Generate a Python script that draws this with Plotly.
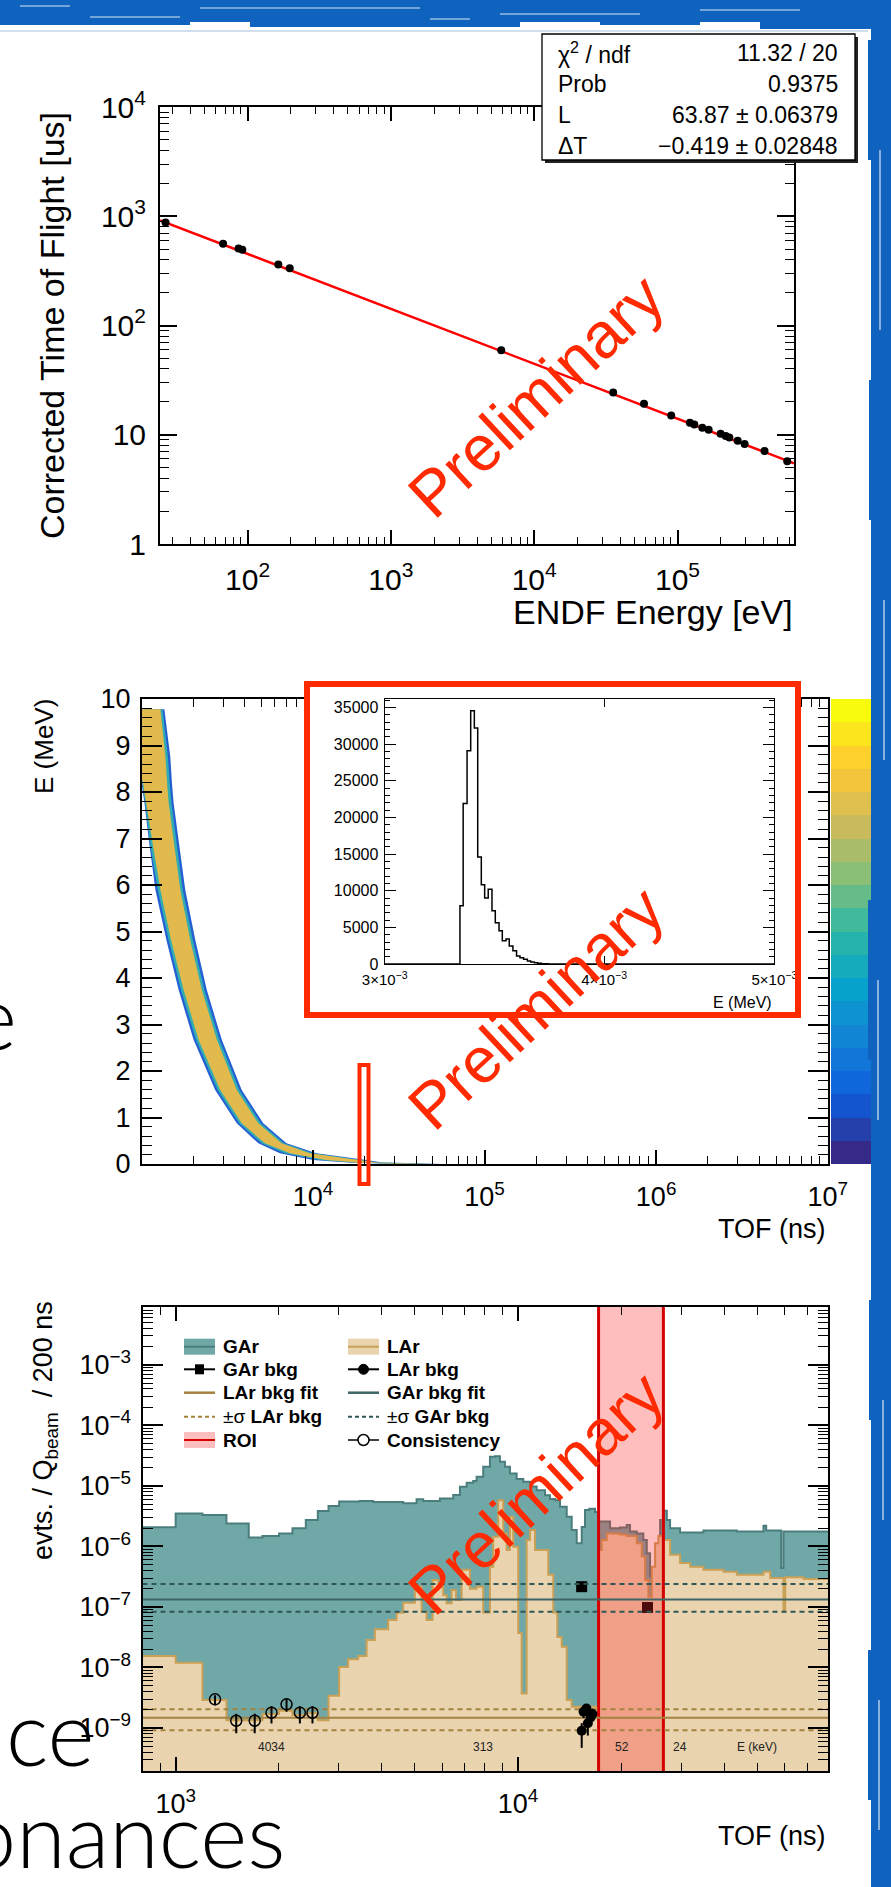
import math
import base64
import plotly.graph_objects as go

W, H = 891, 1887
def PX(x): return x / W
def PY(y): return 1 - y / H
FONT = "Liberation Sans, Arial, Helvetica, sans-serif"
RED_WM = "#ff2a00"
BLUE = "#0f62be"

# ---------------- Panel 1: TOF calibration ----------------
endf_energy_eV = [26.8, 67.5, 86.5, 92, 164, 197, 5890, 35600, 58400, 90400, 122000, 131000,
                  149000, 165000, 200000, 217000, 230000, 263000, 294000, 405000, 583000]
tof_us = [877, 561, 506, 493, 361, 334, 59.4, 24.3, 19.2, 15.0, 12.9, 12.4,
          11.6, 11.1, 10.2, 9.76, 9.42, 8.79, 8.21, 7.10, 5.73]
fit_energy_eV = [24.5, 650000]
fit_tof_us = [916, 5.48]
stat_names = ["χ<sup>2</sup> / ndf", "Prob", "L", "ΔT"]
stat_values = ["11.32 / 20", "0.9375", "63.87 ± 0.06379", "−0.419 ± 0.02848"]
p1_xtick_vals = [1e2, 1e3, 1e4, 1e5]
p1_xtick_text = ["10<sup>2</sup>", "10<sup>3</sup>", "10<sup>4</sup>", "10<sup>5</sup>"]
p1_ytick_vals = [1, 10, 100, 1000, 10000]
p1_ytick_text = ["1", "10", "10<sup>2</sup>", "10<sup>3</sup>", "10<sup>4</sup>"]

# ---------------- Panel 2: E vs TOF band ----------------
band_E = [9.78, 8.76, 8.2, 7.76, 6.97, 5.89, 4.82, 3.74, 2.67, 1.59, 0.875, 0.445, 0.23, 0.086, 0.03, 0.008]
blue_lo = [900, 900, 1000, 1041, 1103, 1206, 1396, 1647, 2012, 2688, 3592, 4797, 6409, 10000, 16000, 28000]
blue_hi = [1360, 1472, 1505, 1540, 1647, 1800, 2058, 2404, 2939, 3840, 5126, 7008, 10460, 20400, 25500, 57800]
teal_lo = [900, 900, 1008, 1050, 1115, 1245, 1440, 1700, 2080, 2780, 3715, 5020, 6850, 11000, 17000, 30000]
teal_hi = [1325, 1425, 1460, 1495, 1595, 1740, 1990, 2325, 2845, 3715, 4960, 6780, 10000, 19100, 24400, 50000]
gold_lo = [900, 900, 1020, 1069, 1153, 1289, 1486, 1761, 2151, 2874, 3840, 5245, 7325, 11960, 17870, 32000]
gold_hi = [1289, 1378, 1410, 1440, 1540, 1684, 1923, 2249, 2751, 3592, 4797, 6556, 9570, 17870, 23330, 45000]
p2_xtick_vals = [1e4, 1e5, 1e6, 1e7]
p2_xtick_text = ["10<sup>4</sup>", "10<sup>5</sup>", "10<sup>6</sup>", "10<sup>7</sup>"]
p2_ytick_vals = [0, 1, 2, 3, 4, 5, 6, 7, 8, 9, 10]
palette_levels = list(range(20))
kbird = [[0, "#352a87"], [0.125, "#0f5cdd"], [0.25, "#1481d6"], [0.375, "#06a4ca"],
         [0.5, "#2eb7a4"], [0.625, "#87bf77"], [0.75, "#d1bb59"], [0.875, "#fec832"], [1, "#f9fb0e"]]

# inset histogram
inset_edges = [3.311e-3, 3.325e-3, 3.342e-3, 3.358e-3, 3.374e-3, 3.389e-3, 3.405e-3, 3.420e-3, 3.436e-3,
               3.453e-3, 3.468e-3, 3.485e-3, 3.500e-3, 3.517e-3, 3.532e-3, 3.549e-3, 3.566e-3, 3.582e-3,
               3.599e-3, 3.617e-3, 3.633e-3, 3.650e-3, 3.666e-3, 3.684e-3, 3.701e-3, 3.718e-3]
inset_counts = [7950, 21900, 29100, 34550, 32200, 14600, 10800, 9000, 10200, 7270, 5640, 4550, 3180,
                3400, 2450, 1820, 1090, 860, 640, 410, 270, 180, 90, 45, 20]
inset_xtick_vals = [3e-3, 4e-3, 5e-3]
inset_xtick_text = ["3×10<sup>−3</sup>", "4×10<sup>−3</sup>", "5×10<sup>−3</sup>"]
inset_ytick_vals = [0, 5000, 10000, 15000, 20000, 25000, 30000, 35000]

# ---------------- Panel 3: TOF spectra ----------------
gar_edges = [800, 1000, 1197, 1407, 1635, 1793, 2005, 2194, 2400, 2602, 2796, 3003, 3451, 3776, 4620,
             5056, 5286, 5915, 6469, 6768, 7080, 7401, 7572, 7916, 8282, 8565, 8858, 9162, 9475, 9913,
             10363, 10842, 11342, 11994, 12404, 12829, 13268, 13881, 14356, 14848, 15356, 15701, 16162,
             16795, 17172, 18579, 19872, 20789, 21256, 22236, 23247, 23786, 24320, 24866, 25441, 26020,
             26604, 27220, 27826, 29763, 34823, 43605, 52156, 53113, 58750, 59667, 82000]
gar_vals = [2.07e-6, 3.5e-6, 3.3e-6, 2.4e-6, 1.41e-6, 1.49e-6, 1.64e-6, 2.0e-6, 2.73e-6, 3.85e-6,
            4.65e-6, 5.5e-6, 5.6e-6, 5.4e-6, 5.16e-6, 6.0e-6, 5.6e-6, 6.2e-6, 7.1e-6, 9.7e-6,
            1.13e-5, 1.2e-5, 1.42e-5, 2.07e-5, 3.03e-5, 3.1e-5, 2.5e-5, 2.07e-5, 1.6e-5, 1.3e-5,
            1.17e-5, 9.8e-6, 8.5e-6, 7.0e-6, 6.1e-6, 5.8e-6, 4.5e-6, 3.1e-6, 1.86e-6, 1.13e-6,
            2.1e-6, 4.0e-6, 4.2e-6, 3.7e-6, 2.57e-6, 2.0e-6, 2.05e-6, 2.26e-6, 1.76e-6, 1.64e-6,
            1.28e-6, 7.7e-7, 3.2e-7, 2.8e-7, 8.7e-7, 2.73e-6, 3.9e-6, 2.73e-6, 2.0e-6, 1.69e-6,
            1.83e-6, 1.76e-6, 2.2e-6, 1.83e-6, 4.4e-7, 1.76e-6]
lar_edges = [800, 1000, 1197, 1407, 1793, 2005, 2194, 2400, 2602, 2796, 3003, 3190, 3412, 3612, 3819,
             4176, 4419, 4620, 4998, 5229, 5408, 5631, 5848, 6048, 6188, 6400, 6588, 6846, 7238, 7572,
             7916, 8282, 8468, 8757, 9057, 9267, 9475, 9688, 10020, 10252, 10603, 10842, 11213, 12263,
             12683, 13029, 13421, 13881, 14356, 17172, 17569, 18171, 19872, 20789, 22236, 22998, 23515,
             24043, 24600, 25152, 25716, 26497, 27826, 29763, 31835, 34823, 39837, 43605, 52156, 54563,
             59667, 60354, 68282, 82000]
lar_vals = [1.55e-8, 1.2e-8, 2.9e-9, 1.35e-9, 1.7e-9, 1.93e-9, 1.64e-9, 1.75e-9, 1.35e-9, 3.4e-9,
            1.02e-8, 1.37e-8, 1.55e-8, 2.84e-8, 4.27e-8, 6.1e-8, 8.0e-8, 1.17e-7, 2.16e-7, 8.3e-8,
            6.1e-8, 2.8e-7, 2.16e-7, 1.57e-7, 1.15e-7, 1.9e-7, 1.3e-7, 4.1e-7, 2.0e-7, 2.16e-7,
            8.1e-8, 4.6e-7, 1.44e-6, 5.8e-6, 1.64e-6, 8.7e-7, 3.1e-6, 9.9e-7, 3.7e-8, 3.7e-9,
            1.28e-6, 1.86e-6, 8.7e-7, 3.4e-7, 8.1e-8, 3.2e-8, 2.2e-8, 2.9e-9, 2.25e-9, 8.7e-7,
            1.28e-6, 1.64e-6, 1.57e-6, 1.48e-6, 1.13e-6, 6.8e-7, 2.8e-7, 1.48e-7, 4.6e-7, 1.13e-6,
            1.48e-6, 1.28e-6, 7.3e-7, 5.3e-7, 4.6e-7, 4.1e-7, 3.8e-7, 3.4e-7, 3.8e-7, 3.0e-7,
            8.3e-8, 3.1e-7, 2.9e-7]
roi_tof = [17200, 26600]
bkg_line_x = [800, 82000]
gar_bkg_fit = 1.33e-7
gar_bkg_sigma = [2.4e-7, 8.3e-8]
lar_bkg_fit = 1.48e-9
lar_bkg_sigma = [2.04e-9, 9.2e-10]
gar_bkg_x = [15350, 23900]
gar_bkg_y = [2.16e-7, 9.8e-8]
gar_bkg_err = [2.0e-8, 1.0e-8]
lar_bkg_x = [15356, 15550, 15850, 16000, 16300, 16500]
lar_bkg_y = [9.0e-10, 1.86e-9, 2.1e-9, 1.2e-9, 1.5e-9, 1.7e-9]
lar_bkg_err_lo = [4.3e-10, 4.0e-10, 4.0e-10, 4.5e-10, 4.0e-10, 4.0e-10]
lar_bkg_err_hi = [3.0e-10, 4.0e-10, 4.0e-10, 4.0e-10, 4.0e-10, 4.0e-10]
cons_x = [1303, 1503, 1702, 1905, 2108, 2306, 2510]
cons_y = [2.98e-9, 1.32e-9, 1.32e-9, 1.79e-9, 2.46e-9, 1.79e-9, 1.79e-9]
cons_err_lo = [0.6e-9, 0.5e-9, 0.5e-9, 0.6e-9, 0.6e-9, 0.6e-9, 0.6e-9]
cons_err_hi = [0.5e-9, 0.4e-9, 0.4e-9, 0.5e-9, 0.6e-9, 0.5e-9, 0.5e-9]
energy_labels = ["4034", "313", "52", "24", "E (keV)"]
energy_label_tof = [1905, 7916, 20100, 29763, 50000]
p3_xtick_vals = [1e3, 1e4]
p3_xtick_text = ["10<sup>3</sup>", "10<sup>4</sup>"]
p3_ytick_vals = [1e-9, 1e-8, 1e-7, 1e-6, 1e-5, 1e-4, 1e-3]
p3_ytick_text = ["10<sup>−9</sup>", "10<sup>−8</sup>", "10<sup>−7</sup>", "10<sup>−6</sup>",
                 "10<sup>−5</sup>", "10<sup>−4</sup>", "10<sup>−3</sup>"]

GAR_FILL, GAR_LINE = "#70a8a8", "#4b7d7d"
LAR_FILL, LAR_LINE = "#e9d4af", "#c9a055"
LAR_FIT, GAR_FIT = "#a58240", "#3e6666"

fig = go.Figure()

# ---- panel 1 traces
fig.add_trace(go.Scatter(x=fit_energy_eV, y=fit_tof_us, mode="lines",
                         line=dict(color="#ff0000", width=2.5), xaxis="x", yaxis="y"))
fig.add_trace(go.Scatter(x=endf_energy_eV, y=tof_us, mode="markers",
                         marker=dict(color="black", size=8), xaxis="x", yaxis="y"))

# ---- panel 2 band
for lo, hi, col in [(blue_lo, blue_hi, "#2460d4"), (teal_lo, teal_hi, "#33aeb0"), (gold_lo, gold_hi, "#e2b94c")]:
    fig.add_trace(go.Scatter(x=lo + hi[::-1], y=band_E + band_E[::-1], mode="lines", fill="toself",
                             fillcolor=col, line=dict(width=0, color=col), xaxis="x2", yaxis="y2"))

# ---- cover subplot (white inset box background)
fig.add_trace(go.Scatter(x=[0.5], y=[0.5], mode="markers", marker=dict(opacity=0),
                         xaxis="x3", yaxis="y3", hoverinfo="skip"))

# ---- inset histogram
fig.add_trace(go.Scatter(x=[3e-3] + inset_edges + [5e-3], y=[0] + inset_counts + [0, 0], mode="lines",
                         line=dict(color="black", width=1.5, shape="hv"), xaxis="x4", yaxis="y4"))

# ---- colour palette bar
fig.add_trace(go.Heatmap(z=[[v] for v in palette_levels], x=[0], y=palette_levels, colorscale=kbird,
                         zmin=0, zmax=19, showscale=False, xaxis="x5", yaxis="y5", hoverinfo="skip"))

# ---- panel 3 histograms
BASE = 1e-12
def step_fill(edges, vals):
    return [edges[0]] + edges + [edges[-1]], [BASE] + vals + [vals[-1], BASE]

xs, ys = step_fill(gar_edges, gar_vals)
fig.add_trace(go.Scatter(x=xs, y=ys, mode="lines", fill="toself", fillcolor=GAR_FILL,
                         line=dict(width=0, shape="hv"), xaxis="x6", yaxis="y6"))
fig.add_trace(go.Scatter(x=gar_edges, y=gar_vals + [gar_vals[-1]], mode="lines",
                         line=dict(color=GAR_LINE, width=2, shape="hv"), xaxis="x6", yaxis="y6"))
xs, ys = step_fill(lar_edges, lar_vals)
fig.add_trace(go.Scatter(x=xs, y=ys, mode="lines", fill="toself", fillcolor=LAR_FILL,
                         line=dict(width=0, shape="hv"), xaxis="x6", yaxis="y6"))
fig.add_trace(go.Scatter(x=lar_edges, y=lar_vals + [lar_vals[-1]], mode="lines",
                         line=dict(color=LAR_LINE, width=2, shape="hv"), xaxis="x6", yaxis="y6"))
# GAr bkg squares (under ROI)
fig.add_trace(go.Scatter(x=gar_bkg_x, y=gar_bkg_y, mode="markers",
                         marker=dict(symbol="square", size=11, color="black"),
                         error_y=dict(type="data", array=gar_bkg_err, color="black", width=0, thickness=1.5),
                         xaxis="x6", yaxis="y6"))
# ROI
fig.add_trace(go.Scatter(x=[roi_tof[0], roi_tof[0], roi_tof[1], roi_tof[1], roi_tof[0]],
                         y=[BASE, 1, 1, BASE, BASE], mode="lines", fill="toself",
                         fillcolor="rgba(255,40,40,0.30)", line=dict(color="#d40000", width=3),
                         xaxis="x6", yaxis="y6"))
# fit lines
fig.add_trace(go.Scatter(x=bkg_line_x, y=[gar_bkg_fit] * 2, mode="lines",
                         line=dict(color=GAR_FIT, width=2), xaxis="x6", yaxis="y6"))
for s in gar_bkg_sigma:
    fig.add_trace(go.Scatter(x=bkg_line_x, y=[s] * 2, mode="lines",
                             line=dict(color="#2f5757", width=2, dash="5px,4px"), xaxis="x6", yaxis="y6"))
fig.add_trace(go.Scatter(x=bkg_line_x, y=[lar_bkg_fit] * 2, mode="lines",
                         line=dict(color=LAR_FIT, width=2), xaxis="x6", yaxis="y6"))
for s in lar_bkg_sigma:
    fig.add_trace(go.Scatter(x=bkg_line_x, y=[s] * 2, mode="lines",
                             line=dict(color=LAR_FIT, width=2, dash="5px,4px"), xaxis="x6", yaxis="y6"))
# LAr bkg and consistency points
fig.add_trace(go.Scatter(x=lar_bkg_x, y=lar_bkg_y, mode="markers",
                         marker=dict(symbol="circle", size=10, color="black"),
                         error_y=dict(type="data", array=lar_bkg_err_hi, arrayminus=lar_bkg_err_lo,
                                      color="black", width=0, thickness=2),
                         xaxis="x6", yaxis="y6"))
fig.add_trace(go.Scatter(x=cons_x, y=cons_y, mode="markers",
                         marker=dict(symbol="circle-open", size=11, color="black", line=dict(width=1.5)),
                         error_y=dict(type="data", array=cons_err_hi, arrayminus=cons_err_lo,
                                      color="black", width=0, thickness=2),
                         xaxis="x6", yaxis="y6"))

# ---------------- axes ----------------
def ax(**kw):
    d = dict(showline=True, linecolor="black", linewidth=2, mirror="allticks", ticks="inside",
             tickcolor="black", tickwidth=1.5, showgrid=False, zeroline=False, automargin=False)
    d.update(kw)
    return d

def tf(size):
    return dict(family=FONT, size=size, color="black")

p1x_minor = [m * 10 ** d for d in range(1, 6) for m in range(2, 10)]
p1y_minor = [m * 10 ** d for d in range(0, 4) for m in range(2, 10)]
p2x_minor = [m * 10 ** d for d in range(3, 7) for m in range(2, 10)]
p3x_minor = [m * 10 ** d for d in range(2, 5) for m in range(2, 10)]
p3y_minor = [m * 10.0 ** d for d in range(-10, -2) for m in range(2, 10)]

layout_axes = dict(
    xaxis=ax(type="log", range=[math.log10(24.5), math.log10(650000)], domain=[PX(160), PX(794)], anchor="y",
             tickmode="array", tickvals=p1_xtick_vals, ticktext=p1_xtick_text, ticklen=14, tickfont=tf(30),
             ticklabelstandoff=8,
             minor=dict(tickmode="array", tickvals=p1x_minor, ticks="inside", ticklen=7, tickwidth=1.2, tickcolor="black")),
    yaxis=ax(type="log", range=[0, 4], domain=[PY(544), PY(107)], anchor="x",
             tickmode="array", tickvals=p1_ytick_vals, ticktext=p1_ytick_text, ticklen=17, tickfont=tf(30),
             ticklabelstandoff=6,
             minor=dict(tickmode="array", tickvals=p1y_minor, ticks="inside", ticklen=9, tickwidth=1.2, tickcolor="black")),
    xaxis2=ax(type="log", range=[3.003, 7.002], domain=[PX(142), PX(828)], anchor="y2",
              tickmode="array", tickvals=p2_xtick_vals, ticktext=p2_xtick_text, ticklen=14, tickfont=tf(27),
              ticklabelstandoff=8,
              minor=dict(tickmode="array", tickvals=p2x_minor, ticks="inside", ticklen=8, tickwidth=1.2, tickcolor="black")),
    yaxis2=ax(range=[0, 10], domain=[PY(1164), PY(699)], anchor="x2",
              tickmode="array", tickvals=p2_ytick_vals, ticklen=20, tickfont=tf(27), ticklabelstandoff=4,
              minor=dict(dtick=0.2, ticks="inside", ticklen=10, tickwidth=1.2, tickcolor="black")),
    xaxis3=dict(domain=[PX(304), PX(801)], range=[0, 1], anchor="y3", visible=False, showgrid=False, zeroline=False),
    yaxis3=dict(domain=[PY(1018), PY(681)], range=[0, 1], anchor="x3", visible=False, showgrid=False, zeroline=False),
    xaxis4=ax(type="log", range=[math.log10(3e-3), math.log10(5e-3)], domain=[PX(384.7), PX(774.4)], anchor="y4",
              linewidth=1.3, tickwidth=1.2, tickmode="array", tickvals=inset_xtick_vals, ticktext=inset_xtick_text,
              ticklen=8, tickfont=tf(15), ticklabelstandoff=2),
    yaxis4=ax(range=[0, 36230], domain=[PY(964), PY(698.5)], anchor="x4", linewidth=1.3, tickwidth=1.2,
              tickmode="array", tickvals=inset_ytick_vals, ticktext=[str(v) for v in inset_ytick_vals],
              ticklen=11, tickfont=tf(16), ticklabelstandoff=2,
              minor=dict(dtick=1000, ticks="inside", ticklen=5, tickwidth=1, tickcolor="black")),
    xaxis5=dict(domain=[PX(831), PX(871)], range=[-0.5, 0.5], anchor="y5", visible=False),
    yaxis5=dict(domain=[PY(1164), PY(699)], range=[-0.5, 19.5], anchor="x5", visible=False),
    xaxis6=ax(type="log", range=[math.log10(800), math.log10(80500)], domain=[PX(142.5), PX(828)], anchor="y6",
              tickmode="array", tickvals=p3_xtick_vals, ticktext=p3_xtick_text, ticklen=14, tickfont=tf(27),
              ticklabelstandoff=8,
              minor=dict(tickmode="array", tickvals=p3x_minor, ticks="inside", ticklen=8, tickwidth=1.2, tickcolor="black")),
    yaxis6=ax(type="log", range=[-9.71, -2.045], domain=[PY(1771), PY(1307)], anchor="x6",
              tickmode="array", tickvals=p3_ytick_vals, ticktext=p3_ytick_text, ticklen=20, tickfont=tf(27),
              ticklabelstandoff=4,
              minor=dict(tickmode="array", tickvals=p3y_minor, ticks="inside", ticklen=10, tickwidth=1.2, tickcolor="black")),
)

# ---------------- annotations ----------------
ann = []
def A(text, x, y, size, xanchor="center", yanchor="middle", angle=0, color="black", family=FONT, weight=None,
      xref="paper", yref="paper"):
    f = dict(family=family, size=size, color=color)
    if weight is not None:
        f["weight"] = weight
    ann.append(dict(text=text, x=x, y=y, xref=xref, yref=yref, showarrow=False, xanchor=xanchor,
                    yanchor=yanchor, textangle=angle, font=f))

A("Corrected Time of Flight [us]", PX(52), PY(326), 34, angle=-90)
A("ENDF Energy [eV]", PX(795), PY(612), 34, xanchor="right")
A("E (MeV)", PX(44), PY(747), 26, angle=-90)
A("TOF (ns)", PX(828), PY(1229), 27, xanchor="right")
A("E (MeV)", PX(774), PY(1002), 16, xanchor="right")
A("evts. / Q<sub>beam</sub>  / 200 ns", PX(45), PY(1431), 27, angle=-90)
A("TOF (ns)", PX(828), PY(1836), 27, xanchor="right")

stat_rows = [53, 84, 115, 146]
for nm, val, yy in zip(stat_names, stat_values, stat_rows):
    A(nm, PX(556), PY(yy), 23, xanchor="left")
    A(val, PX(840), PY(yy), 23, xanchor="right")

for t, xv in zip(energy_labels, energy_label_tof):
    A(t, math.log10(xv), PY(1747), 12, xref="x6", color="#222222")

leg_rows = [1346.7, 1369.3, 1392.7, 1416.7, 1440]
leg_c1 = ["<b>GAr</b>", "<b>GAr bkg</b>", "<b>LAr bkg fit</b>", "±σ <b>LAr bkg</b>", "<b>ROI</b>"]
leg_c2 = ["<b>LAr</b>", "<b>LAr bkg</b>", "<b>GAr bkg fit</b>", "±σ <b>GAr bkg</b>", "<b>Consistency</b>"]
for yy, t1, t2 in zip(leg_rows, leg_c1, leg_c2):
    A(t1, PX(221), PY(yy), 19, xanchor="left")
    A(t2, PX(385), PY(yy), 19, xanchor="left")

for cy in [396, 1008, 1493]:
    A("Preliminary", PX(536), PY(cy), 64, angle=-43, color=RED_WM)

A("e", PX(19), PY(1071), 90, xanchor="right", yanchor="bottom", family="Lato, Liberation Sans", weight=300)
A("ce", PX(97), PY(1787), 90, xanchor="right", yanchor="bottom", family="Lato, Liberation Sans", weight=300)
A("onances", PX(288), PY(1889), 90, xanchor="right", yanchor="bottom", family="Lato, Liberation Sans", weight=300)

# ---------------- shapes ----------------
shp = []
def R(x0, y0, x1, y1, fill=None, line_color=None, lw=0, layer="above", dash=None):
    d = dict(type="rect", xref="paper", yref="paper", x0=PX(x0), x1=PX(x1), y0=PY(y1), y1=PY(y0), layer=layer,
             line=dict(width=lw, color=line_color or "rgba(0,0,0,0)"))
    if fill:
        d["fillcolor"] = fill
    if dash:
        d["line"]["dash"] = dash
    shp.append(d)
def L(x0, y0, x1, y1, color, lw, dash=None):
    d = dict(type="line", xref="paper", yref="paper", x0=PX(x0), x1=PX(x1), y0=PY(y0), y1=PY(y1), layer="above",
             line=dict(color=color, width=lw))
    if dash:
        d["line"]["dash"] = dash
    shp.append(d)
def C(cx, cy, r, fill, line_color, lw):
    shp.append(dict(type="circle", xref="paper", yref="paper", x0=PX(cx - r), x1=PX(cx + r), y0=PY(cy + r),
                    y1=PY(cy - r), layer="above", fillcolor=fill, line=dict(color=line_color, width=lw)))

R(545, 37, 858, 163, fill="#222222")
R(542, 34, 855, 160, fill="white", line_color="black", lw=1.3)
R(307, 684, 798, 1015, line_color=RED_WM, lw=6)
R(359.5, 1065, 368.5, 1184, line_color=RED_WM, lw=4)

c1 = (184, 215); c2 = (348, 379)
y0r, y1r, y2r, y3r, y4r = leg_rows
R(c1[0], y0r - 8, c1[1], y0r + 8, fill=GAR_FILL); L(c1[0], y0r, c1[1], y0r, GAR_LINE, 2)
R(c2[0], y0r - 8, c2[1], y0r + 8, fill=LAR_FILL); L(c2[0], y0r, c2[1], y0r, LAR_LINE, 2)
L(c1[0], y1r, c1[1], y1r, "black", 2); R(195, y1r - 5, 204, y1r + 5, fill="black")
L(c2[0], y1r, c2[1], y1r, "black", 2); C(363.5, y1r, 5, "black", "black", 1)
L(c1[0], y2r, c1[1], y2r, LAR_FIT, 2.5)
L(c2[0], y2r, c2[1], y2r, GAR_FIT, 2.5)
L(c1[0], y3r, c1[1], y3r, LAR_FIT, 2, dash="4px,3px")
L(c2[0], y3r, c2[1], y3r, "#2f5757", 2, dash="4px,3px")
R(c1[0], y4r - 8, c1[1], y4r + 8, fill="#ffbebe"); L(c1[0], y4r, c1[1], y4r, "#d40000", 2)
L(c2[0], y4r, c2[1], y4r, "black", 1.5); C(363.5, y4r, 5.5, "white", "black", 1.5)

# right brush border
L(0, 31, 868, 31, "#a9bfdc", 1)
R(871, 0, 891, 1887, fill=BLUE)
for (ya, yb, xa) in [(40, 160, 868), (380, 520, 869), (900, 1060, 868), (1300, 1420, 869), (1650, 1800, 868)]:
    R(xa, ya, 872, yb, fill=BLUE)
for (xx, ya, yb) in [(880, 150, 330), (884, 600, 760), (878, 980, 1120), (883, 1400, 1520), (879, 1700, 1830)]:
    L(xx, ya, xx, yb, "#dbe6f4", 1.2)

# top brush border as an inline SVG picture
top_svg = ('<svg xmlns="http://www.w3.org/2000/svg" width="891" height="30" viewBox="0 0 891 30">'
           '<rect x="0" y="0" width="891" height="22" fill="#0f62be"/>'
           '<rect x="0" y="20" width="190" height="5" fill="#0f62be"/>'
           '<rect x="250" y="20" width="270" height="7" fill="#0f62be"/>'
           '<rect x="600" y="20" width="100" height="5" fill="#0f62be"/>'
           '<rect x="760" y="20" width="131" height="9" fill="#0f62be"/>'
           '<g stroke="#dbe6f4" stroke-width="1.2">'
           '<line x1="200" y1="8" x2="420" y2="8"/><line x1="500" y1="14" x2="640" y2="14"/>'
           '<line x1="90" y1="17" x2="180" y2="17"/><line x1="700" y1="10" x2="800" y2="10"/>'
           '<line x1="430" y1="19" x2="470" y2="19"/><line x1="20" y1="6" x2="70" y2="6"/></g></svg>')
top_src = "data:image/svg+xml;base64," + base64.b64encode(top_svg.encode()).decode()

fig.update_layout(
    width=W, height=H, margin=dict(l=0, r=0, t=0, b=0, autoexpand=False), showlegend=False,
    paper_bgcolor="white", plot_bgcolor="white",
    annotations=ann, shapes=shp, **layout_axes,
    images=[dict(source=top_src, xref="paper", yref="paper", x=0, y=1, sizex=1, sizey=30 / H,
                 xanchor="left", yanchor="top", sizing="stretch", layer="above")],
)
fig.write_html("out.html", config={"displayModeBar": False},
               post_script="document.body.style.margin='0px';document.body.style.overflow='hidden';")
